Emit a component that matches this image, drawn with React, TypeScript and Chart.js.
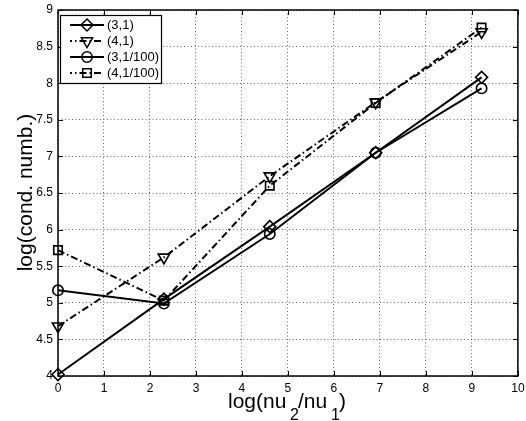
import React, { useEffect, useRef } from "react";
import { Chart, registerables } from "chart.js";

Chart.register(...registerables);

const xValues = [0, 2.3026, 4.6052, 6.9078, 9.2103];
const series31 = [4.02, 5.05, 6.04, 7.05, 8.08];
const series41 = [4.68, 5.62, 6.73, 7.74, 8.7];
const series31h = [5.17, 4.99, 5.94, 7.05, 7.93];
const series41h = [5.72, 5.03, 6.6, 7.73, 8.76];
const seriesLabels = ["(3,1)", "(4,1)", "(3,1/100)", "(4,1/100)"];
const xTicks = [0, 1, 2, 3, 4, 5, 6, 7, 8, 9, 10];
const yTicks = [4, 4.5, 5, 5.5, 6, 6.5, 7, 7.5, 8, 8.5, 9];

const FONT = "'Liberation Sans', Arial, Helvetica, sans-serif";
const DASHDOT = [7, 3, 1.5, 3];

type Style = { marker: string; radius: number; rotation: number; dash: number[] };
const styles: Style[] = [
  { marker: "rectRot", radius: 6, rotation: 0, dash: [] },
  { marker: "triangle", radius: 6.5, rotation: 180, dash: DASHDOT },
  { marker: "circle", radius: 5.2, rotation: 0, dash: [] },
  { marker: "rect", radius: 6, rotation: 0, dash: DASHDOT },
];

function drawMarker(ctx: CanvasRenderingContext2D, s: Style, x: number, y: number) {
  ctx.beginPath();
  const r = s.radius;
  if (s.marker === "rectRot") {
    ctx.moveTo(x, y - r);
    ctx.lineTo(x + r, y);
    ctx.lineTo(x, y + r);
    ctx.lineTo(x - r, y);
    ctx.closePath();
  } else if (s.marker === "triangle") {
    ctx.moveTo(x, y + r);
    ctx.lineTo(x + Math.sin((2 * Math.PI) / 3) * r, y - r / 2);
    ctx.lineTo(x - Math.sin((2 * Math.PI) / 3) * r, y - r / 2);
    ctx.closePath();
  } else if (s.marker === "circle") {
    ctx.arc(x, y, r, 0, Math.PI * 2);
  } else {
    const h = Math.SQRT1_2 * r;
    ctx.rect(x - h, y - h, 2 * h, 2 * h);
  }
  ctx.stroke();
}

const overlay = {
  id: "overlay",
  afterDraw(chart: any) {
    const { ctx, chartArea: a, scales } = chart;
    ctx.save();
    ctx.setLineDash([]);
    ctx.strokeStyle = "#000";
    ctx.lineWidth = 1.5;
    ctx.strokeRect(a.left, a.top, a.right - a.left, a.bottom - a.top);
    ctx.lineWidth = 1;
    ctx.beginPath();
    scales.x.ticks.forEach((t: any) => {
      const px = Math.round(scales.x.getPixelForValue(t.value)) + 0.5;
      ctx.moveTo(px, a.bottom);
      ctx.lineTo(px, a.bottom - 5);
      ctx.moveTo(px, a.top);
      ctx.lineTo(px, a.top + 5);
    });
    scales.y.ticks.forEach((t: any) => {
      const py = Math.round(scales.y.getPixelForValue(t.value)) + 0.5;
      ctx.moveTo(a.left, py);
      ctx.lineTo(a.left + 5, py);
      ctx.moveTo(a.right, py);
      ctx.lineTo(a.right - 5, py);
    });
    ctx.stroke();

    // legend
    const bx = 60.5, by = 15.5, bw = 101, bh = 68;
    ctx.fillStyle = "#fff";
    ctx.fillRect(bx, by, bw, bh);
    ctx.lineWidth = 1.2;
    ctx.strokeRect(bx, by, bw, bh);
    const rows = [25, 41, 57, 73];
    ctx.font = `13px ${FONT}`;
    ctx.textBaseline = "middle";
    ctx.textAlign = "left";
    ctx.fillStyle = "#000";
    seriesLabels.forEach((lab, i) => {
      const s = styles[i];
      const y = rows[i];
      ctx.lineWidth = 2;
      ctx.setLineDash(s.dash);
      ctx.lineDashOffset = s.dash.length ? 5 : 0;
      ctx.beginPath();
      ctx.moveTo(70, y);
      ctx.lineTo(104, y);
      ctx.stroke();
      ctx.setLineDash([]);
      ctx.lineWidth = 1.5;
      drawMarker(ctx, s, 87, y);
      ctx.fillText(lab, 107, y + 0.5);
    });

    // x axis title with subscripts
    ctx.textBaseline = "alphabetic";
    ctx.font = `21px ${FONT}`;
    ctx.fillText("log(nu", 228, 408);
    ctx.font = `16px ${FONT}`;
    ctx.fillText("2", 290, 420);
    ctx.font = `21px ${FONT}`;
    ctx.fillText("/nu", 298, 408);
    ctx.font = `16px ${FONT}`;
    ctx.fillText("1", 331, 420);
    ctx.font = `21px ${FONT}`;
    ctx.fillText(")", 339, 408);

    // y axis title
    ctx.translate(32, 192.5);
    ctx.rotate(-Math.PI / 2);
    ctx.textAlign = "center";
    ctx.font = `21px ${FONT}`;
    ctx.fillText("log(cond. numb.)", 0, 0);
    ctx.restore();
  },
};

export default function App() {
  const ref = useRef<HTMLCanvasElement>(null);
  useEffect(() => {
    document.body.style.margin = "0";
    const all = [series31, series41, series31h, series41h];
    const chart = new Chart(ref.current!, {
      type: "line",
      data: {
        datasets: all.map((vals, i) => ({
          label: seriesLabels[i],
          data: xValues.map((x, j) => ({ x, y: vals[j] })),
          borderColor: "#000",
          borderWidth: 2,
          borderDash: styles[i].dash,
          pointStyle: styles[i].marker as any,
          pointRadius: styles[i].radius,
          pointRotation: styles[i].rotation,
          pointBorderWidth: 1.6,
          pointBorderColor: "#000",
          pointBackgroundColor: "rgba(0,0,0,0)",
          tension: 0,
          fill: false,
          clip: false as any,
        })),
      },
      options: {
        animation: false,
        responsive: false,
        maintainAspectRatio: false,
        devicePixelRatio: 1,
        layout: { padding: { top: 10, right: 4, left: 0, bottom: 0 } },
        plugins: { legend: { display: false }, tooltip: { enabled: false } },
        scales: {
          x: {
            type: "linear",
            min: 0,
            max: 10,
            afterBuildTicks: (s: any) => {
              s.ticks = xTicks.map((v) => ({ value: v }));
            },
            ticks: {
              color: "#000",
              font: { family: FONT, size: 12 },
              padding: 5,
              maxRotation: 0,
              autoSkip: false,
              callback: (v: any) => String(v),
            },
            grid: { color: "rgba(0,0,0,0.6)", lineWidth: 1, drawTicks: false },
            border: { display: false, dash: [1, 2.5] },
            afterFit: (s: any) => {
              s.height = 45;
              s.paddingLeft = 0;
              s.paddingRight = 0;
            },
          },
          y: {
            type: "linear",
            min: 4,
            max: 9,
            afterBuildTicks: (s: any) => {
              s.ticks = yTicks.map((v) => ({ value: v }));
            },
            ticks: {
              color: "#000",
              font: { family: FONT, size: 12 },
              padding: 5,
              autoSkip: false,
              callback: (v: any) => String(v),
            },
            grid: { color: "rgba(0,0,0,0.6)", lineWidth: 1, drawTicks: false },
            border: { display: false, dash: [1, 2.5] },
            afterFit: (s: any) => {
              s.width = 58;
              s.paddingTop = 0;
              s.paddingBottom = 0;
            },
          },
        },
      },
      plugins: [overlay],
    });
    return () => chart.destroy();
  }, []);
  return (
    <div style={{ position: "fixed", left: 0, top: 0, width: 526, height: 421, background: "#fff" }}>
      <canvas ref={ref} width={526} height={421} style={{ display: "block", width: 526, height: 421 }} />
    </div>
  );
}
